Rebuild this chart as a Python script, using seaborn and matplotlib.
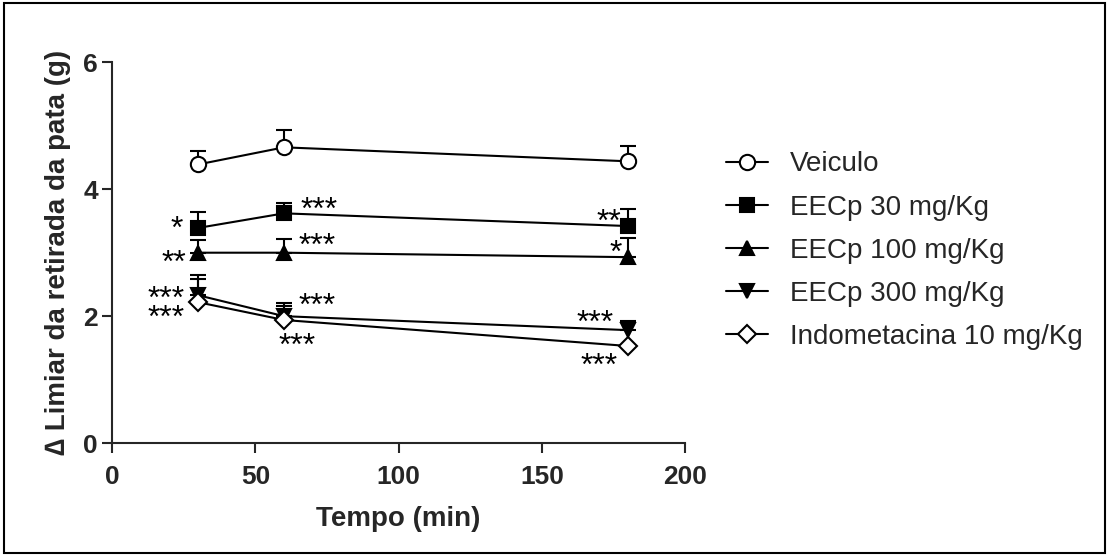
import matplotlib
matplotlib.use("Agg")
import matplotlib.pyplot as plt
import seaborn as sns
import pandas as pd
from matplotlib.patches import Rectangle

sns.set_style("ticks")
plt.rcParams["font.family"] = ["Liberation Sans", "DejaVu Sans"]

# Time points (min)
tempo = [30, 60, 180]

# Group means and upper SEM
groups = ["Veiculo", "EECp 30 mg/Kg", "EECp 100 mg/Kg", "EECp 300 mg/Kg", "Indometacina 10 mg/Kg"]
veiculo = [4.39, 4.66, 4.44]
veiculo_err = [0.22, 0.28, 0.24]
eecp30 = [3.39, 3.62, 3.42]
eecp30_err = [0.25, 0.17, 0.27]
eecp100 = [3.00, 3.00, 2.93]
eecp100_err = [0.20, 0.21, 0.30]
eecp300 = [2.33, 2.00, 1.78]
eecp300_err = [0.32, 0.20, 0.14]
indo = [2.22, 1.94, 1.53]
indo_err = [0.36, 0.22, 0.0]

means = [veiculo, eecp30, eecp100, eecp300, indo]
errs = [veiculo_err, eecp30_err, eecp100_err, eecp300_err, indo_err]
markers = ["o", "s", "^", "v", "D"]
faces = ["white", "black", "black", "black", "white"]
msizes = [11, 10, 10, 10, 9]

# Significance marks: text, anchor x, glyph-centre y, alignment
sig_text = ["*", "**", "***\n***", "***", "***", "***", "***", "**", "*", "***", "***"]
sig_x = [24.8, 25.8, 25.5, 65.6, 64.9, 64.9, 64.6, 177.7, 177.7, 168.4, 169.8]
sig_y = [3.45, 2.91, 2.19, 3.75, 3.18, 2.24, 1.61, 3.56, 3.07, 1.97, 1.29]
sig_ha = ["right", "right", "right", "left", "left", "left", "center", "right", "right", "center", "center"]
# the asterisk sits high in its line box; shift the box down so the glyph lands on y
sig_dy = 0.09

df = pd.DataFrame({
    "Tempo": tempo * len(groups),
    "Valor": sum(means, []),
    "Erro": sum(errs, []),
    "Grupo": sum([[g] * len(tempo) for g in groups], []),
})

fig = plt.figure(figsize=(11.09, 5.56), dpi=100)
ax = fig.add_axes([0.101, 0.203, 0.517, 0.685])

for i, g in enumerate(groups):
    sub = df[df["Grupo"] == g]
    ax.errorbar(sub["Tempo"], sub["Valor"], yerr=[[0] * len(sub), sub["Erro"]],
                fmt="none", ecolor="black", elinewidth=1.5, capsize=5.5, capthick=1.5,
                zorder=2, clip_on=False)
    sns.lineplot(data=sub, x="Tempo", y="Valor", ax=ax, color="black", linewidth=1.5,
                 marker=markers[i], markersize=msizes[i], markerfacecolor=faces[i],
                 markeredgecolor="black", markeredgewidth=1.5, label=g, zorder=3,
                 clip_on=False)

for t, x, y, ha in zip(sig_text, sig_x, sig_y, sig_ha):
    ax.text(x, y - sig_dy, t, ha=ha, va="center", fontsize=23, color="black",
            linespacing=0.52, multialignment="center")

ax.set_xlim(0, 200)
ax.set_ylim(0, 6)
ax.set_xticks([0, 50, 100, 150, 200])
ax.set_yticks([0, 2, 4, 6])
ax.set_xlabel("Tempo (min)", fontsize=20, fontweight="bold", labelpad=12)
ax.set_ylabel("\u2206 Limiar da retirada da pata (g)", fontsize=20, fontweight="bold", labelpad=9)
ax.tick_params(axis="both", direction="out", length=7, width=1.5, labelsize=19)
ax.tick_params(axis="x", pad=9)
ax.tick_params(axis="y", pad=3)
for lab in ax.get_xticklabels() + ax.get_yticklabels():
    lab.set_fontweight("bold")
sns.despine(ax=ax)
for s in ["left", "bottom"]:
    ax.spines[s].set_linewidth(1.5)

leg = ax.legend(loc="center left", bbox_to_anchor=(0.655, 0.549), bbox_transform=fig.transFigure,
                frameon=False, fontsize=20, handlelength=1.5, handletextpad=0.8,
                labelspacing=0.62, borderpad=0, borderaxespad=0)

# Frame around the whole figure
fig.patches.append(Rectangle((0.004, 0.006), 0.992, 0.988, transform=fig.transFigure,
                             fill=False, edgecolor="black", linewidth=1.5))

fig.savefig("out.png", dpi=100)
